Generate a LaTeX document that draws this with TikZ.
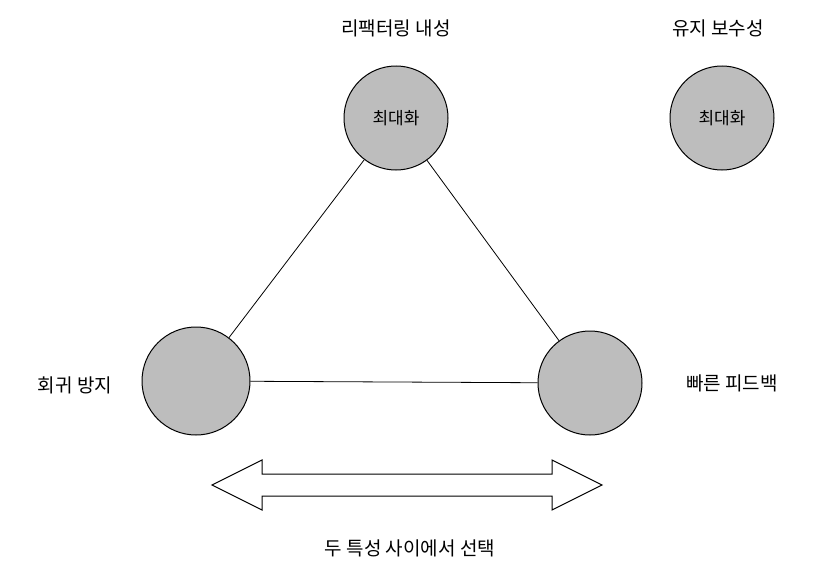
\documentclass[tikz,border=0pt]{standalone}
\usepackage{fontspec}
\newfontfamily\kr{Noto Sans CJK KR}
\definecolor{cf}{HTML}{BDBDBD}
\begin{document}
\begin{tikzpicture}[x=1pt,y=-1pt,
  ball/.style={circle,draw=black,line width=1pt,fill=cf,minimum size=104pt,inner sep=0pt,font=\kr\fontsize{17}{20}\selectfont},
  lbl/.style={font=\kr\fontsize{19}{22}\selectfont},
  link/.style={draw=black,line width=0.8pt}]
\useasboundingbox (0,0) rectangle (828,570);
\fill[white] (0,0) rectangle (828,570);
\node[ball] (t) at (396,118) {최대화};
\node[ball] (m) at (722,118) {최대화};
\node[ball,minimum size=108pt] (l) at (196,381) {};
\node[ball] (r) at (590,383) {};
\node[lbl] at (396,28) {리팩터링 내성};
\node[lbl] at (718,28) {유지 보수성};
\node[lbl] at (75,385) {회귀 방지};
\node[lbl] at (732,383) {빠른 피드백};
\node[lbl] (c) at (410,548) {두 특성 사이에서 선택};
\draw[link] (t) -- (l);
\draw[link] (t) -- (r);
\draw[link] (l) -- (r);
\draw[line width=1pt,fill=white] (212,485) -- (262,460) -- (262,474) -- (552,474) -- (552,460) -- (602,485) -- (552,510) -- (552,496) -- (262,496) -- (262,510) -- cycle;
\end{tikzpicture}
\end{document}
